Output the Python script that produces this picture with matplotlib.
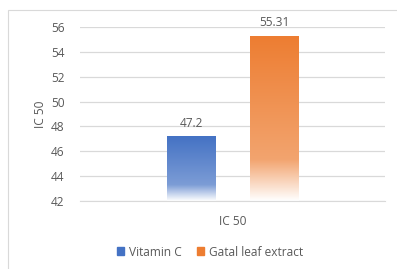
import matplotlib.pyplot as plt
import matplotlib.patches as mpatches
import numpy as np

# data
category = "IC 50"
series = ["Vitamin C", "Gatal leaf extract"]
values = [47.2, 55.31]
labels = ["47.2", "55.31"]
colors = ["#4472C4", "#ED7D31"]
yticks = [42, 44, 46, 48, 50, 52, 54, 56]

plt.rcParams['font.family'] = ['Open Sans', 'DejaVu Sans']
txt = "#595959"
fs = 8.6

fig = plt.figure(figsize=(3.97, 2.69), dpi=100)
# chart border
fig.patches.append(mpatches.Rectangle((8 / 397, -0.1), 1.2, 1 - 10 / 269 + 0.1,
                                      transform=fig.transFigure, fill=False,
                                      edgecolor="#D9D9D9", linewidth=0.8))

ax = fig.add_axes([80 / 397, 1 - 201 / 269, 305 / 397, 174 / 269])
ax.set_xlim(-0.5, 0.5)
ax.set_ylim(42, 56)
ax.set_yticks(yticks)
ax.set_xticks([0])
ax.set_xticklabels([category])
ax.tick_params(length=0, colors=txt, labelsize=fs)
ax.tick_params(axis="x", pad=10)
ax.tick_params(axis="y", pad=11)
ax.set_ylabel("IC 50", color=txt, fontsize=fs, labelpad=3)
ax.grid(axis="y", color="#D9D9D9", linewidth=0.9)
ax.set_axisbelow(True)
for s in ["top", "right", "left"]:
    ax.spines[s].set_visible(False)
ax.spines["bottom"].set_color("#D9D9D9")

# gradient: full colour at top, lighter toward bottom, white at base
t = np.linspace(0, 1, 256)[:, None]  # 0 top, 1 bottom
w = np.where(t < 0.75, 0.3 * t / 0.75, 0.3 + 0.7 * (t - 0.75) / 0.25)

offsets = [-0.136, 0.136]
width = 0.16
handles = []
for off, v, lab, c, name in zip(offsets, values, labels, colors, series):
    bar = ax.bar(off, v - 42, bottom=42, width=width, color="none")[0]
    rgb = np.array(plt.matplotlib.colors.to_rgb(c))
    img = (1 - w)[..., None] * rgb + w[..., None] * np.ones(3)
    img = np.repeat(img, 2, axis=1)
    im = ax.imshow(img, extent=[off - width / 2, off + width / 2, 42, v],
                   aspect="auto", origin="upper", zorder=2)
    im.set_clip_path(bar)
    ax.text(off, v + 0.55, lab, ha="center", va="bottom", color=txt, fontsize=fs)
    handles.append(mpatches.Patch(color=c, label=name))

ax.set_xlim(-0.5, 0.5)
ax.set_ylim(42, 56)

fig.legend(handles=handles, loc="center", bbox_to_anchor=(210 / 397, 1 - 252 / 269),
           ncol=2, frameon=False, fontsize=fs, labelcolor=txt,
           handlelength=0.6, handleheight=0.6, handletextpad=0.4, columnspacing=1.3)

fig.savefig("out.png", dpi=100)
